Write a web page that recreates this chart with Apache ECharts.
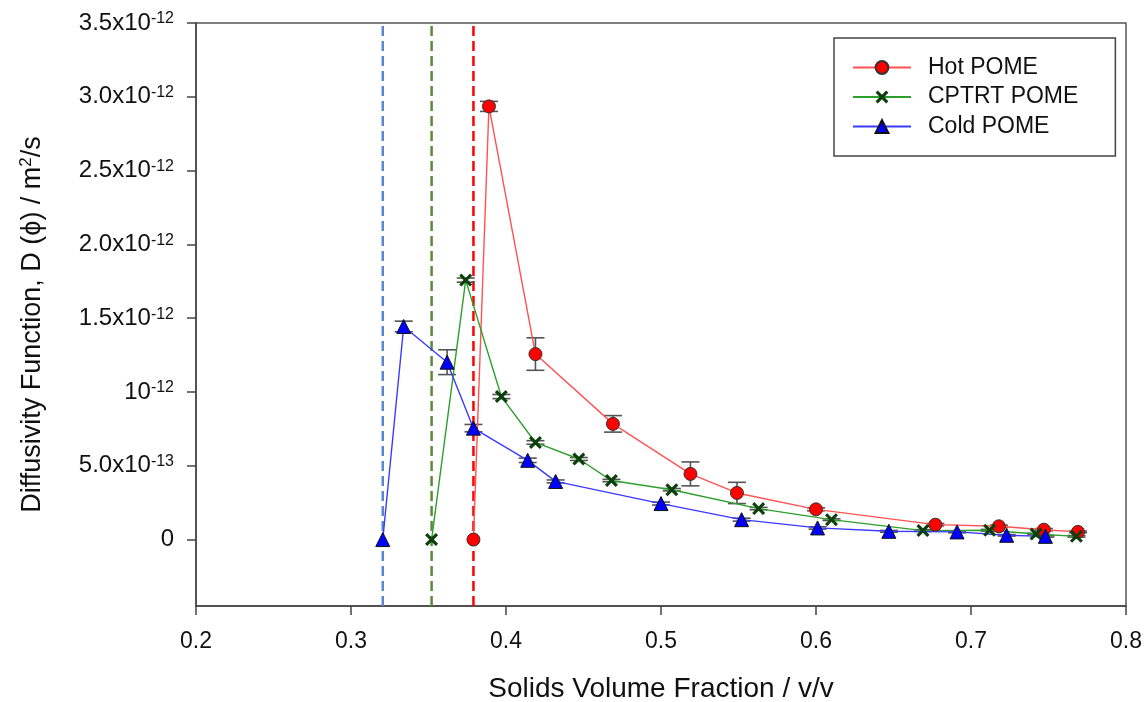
<!DOCTYPE html>
<html>
<head>
<meta charset="utf-8">
<script src="https://cdn.jsdelivr.net/npm/echarts@6/dist/echarts.min.js"></script>
<style>
html,body{margin:0;padding:0;background:#fff;}
#chart{width:1147px;height:702px;}
</style>
</head>
<body>
<div id="chart"></div>
<script>
// Values of D(phi) are in units of 1e-12 m^2/s
const hotX   = [0.379, 0.389, 0.419, 0.469, 0.519, 0.549, 0.600, 0.677, 0.718, 0.747, 0.769];
const hotY   = [0.000, 2.935, 1.257, 0.784, 0.445, 0.316, 0.205, 0.101, 0.090, 0.067, 0.052];
const hotErr = [0.000, 0.034, 0.110, 0.056, 0.081, 0.072, 0.010, 0.008, 0.008, 0.008, 0.006];

const cptX   = [0.352, 0.374, 0.397, 0.419, 0.447, 0.468, 0.507, 0.563, 0.610, 0.669, 0.712, 0.742, 0.768];
const cptY   = [0.000, 1.758, 0.969, 0.658, 0.546, 0.400, 0.338, 0.210, 0.135, 0.061, 0.063, 0.038, 0.022];
const cptErr = [0.000, 0.014, 0.014, 0.012, 0.010, 0.008, 0.008, 0.008, 0.006, 0.006, 0.006, 0.005, 0.005];

const coldX   = [0.3205, 0.334, 0.362, 0.379, 0.414, 0.432, 0.500, 0.552, 0.601, 0.647, 0.691, 0.723, 0.748];
const coldY   = [0.000, 1.444, 1.202, 0.755, 0.537, 0.394, 0.244, 0.135, 0.079, 0.056, 0.052, 0.029, 0.022];
const coldErr = [0.000, 0.036, 0.084, 0.025, 0.015, 0.010, 0.010, 0.010, 0.008, 0.006, 0.006, 0.005, 0.005];

const refLines  = [0.3205, 0.352, 0.379];
const refColors = ['#5b86d0', '#5a8a3a', '#ff0000'];

const seriesNames = ['Hot POME', 'CPTRT POME', 'Cold POME'];

const xTickValues = [0.2, 0.3, 0.4, 0.5, 0.6, 0.7, 0.8];
const yTickValues = [0, 0.5, 1.0, 1.5, 2.0, 2.5, 3.0, 3.5];
const yTickLabels = ['0', '5.0x10{s|-13}', '10{s|-12}', '1.5x10{s|-12}', '2.0x10{s|-12}',
                     '2.5x10{s|-12}', '3.0x10{s|-12}', '3.5x10{s|-12}'];

const Y_MIN = -0.45, Y_MAX = 3.5;
const FONT = '"Liberation Sans", Arial, sans-serif';

function pts(xs, ys) { return xs.map((x, i) => [x, ys[i]]); }
function errPts(xs, ys, es) {
  const out = [];
  xs.forEach((x, i) => { if (es[i] > 0) out.push([x, ys[i], es[i]]); });
  return out;
}

const xPath = 'path://M1.7,0 L5,3.3 L8.3,0 L10,1.7 L6.7,5 L10,8.3 L8.3,10 L5,6.7 L1.7,10 L0,8.3 L3.3,5 L0,1.7 Z';

function errorSeries(data) {
  return {
    type: 'custom',
    silent: true,
    z: 1,
    renderItem: function (params, api) {
      const x = api.value(0), y = api.value(1), e = api.value(2);
      const t = api.coord([x, y + e]);
      const b = api.coord([x, y - e]);
      const w = 9;
      const st = { stroke: '#555555', lineWidth: 1.6 };
      return {
        type: 'group',
        children: [
          { type: 'line', shape: { x1: t[0], y1: t[1], x2: b[0], y2: b[1] }, style: st },
          { type: 'line', shape: { x1: t[0] - w, y1: t[1], x2: t[0] + w, y2: t[1] }, style: st },
          { type: 'line', shape: { x1: b[0] - w, y1: b[1], x2: b[0] + w, y2: b[1] }, style: st }
        ]
      };
    },
    data: data
  };
}

const series = [];
refLines.forEach((v, i) => {
  series.push({
    type: 'line', silent: true, symbol: 'none', z: 0,
    data: [[v, Y_MIN], [v, Y_MAX]],
    lineStyle: { color: refColors[i], width: 2.5, type: [10, 5] }
  });
});
series.push(errorSeries(errPts(hotX, hotY, hotErr)));
series.push(errorSeries(errPts(cptX, cptY, cptErr)));
series.push(errorSeries(errPts(coldX, coldY, coldErr)));

series.push({
  name: seriesNames[0], type: 'line', z: 3,
  data: pts(hotX, hotY),
  symbol: 'circle', symbolSize: 13,
  lineStyle: { color: '#ff5252', width: 1.4 },
  itemStyle: { color: '#ff0000', borderColor: '#333333', borderWidth: 1 }
});
series.push({
  name: seriesNames[1], type: 'line', z: 3,
  data: pts(cptX, cptY),
  symbol: xPath, symbolSize: 13,
  lineStyle: { color: '#2e9e2e', width: 1.4 },
  itemStyle: { color: '#0b3f0b', borderWidth: 0 }
});
series.push({
  name: seriesNames[2], type: 'line', z: 3,
  data: pts(coldX, coldY),
  symbol: 'triangle', symbolSize: 14,
  lineStyle: { color: '#3a3aff', width: 1.4 },
  itemStyle: { color: '#0000ff', borderColor: '#111111', borderWidth: 1 }
});

const chart = echarts.init(document.getElementById('chart'), null, { renderer: 'canvas' });
chart.setOption({
  animation: false,
  backgroundColor: '#ffffff',
  textStyle: { fontFamily: FONT },
  grid: {
    left: 196, right: 21, top: 23, bottom: 96,
    show: true, borderColor: '#555555', borderWidth: 1.5,
    containLabel: false, outerBoundsMode: 'none'
  },
  legend: {
    data: seriesNames,
    orient: 'vertical',
    left: 834, top: 38,
    padding: [18, 37, 18, 18],
    itemGap: 6.5,
    itemWidth: 58, itemHeight: 16,
    borderColor: '#444444', borderWidth: 1.5,
    backgroundColor: '#ffffff',
    textStyle: { fontFamily: FONT, fontSize: 23, color: '#111111', padding: [0, 0, 0, 12] }
  },
  xAxis: {
    type: 'value', min: 0.2, max: 0.8, interval: 0.1,
    name: 'Solids Volume Fraction / v/v',
    nameLocation: 'middle', nameGap: 69,
    nameTextStyle: { fontFamily: FONT, fontSize: 28, color: '#111111' },
    axisLine: { show: true, onZero: false, lineStyle: { color: '#444444', width: 1.5 } },
    axisTick: { show: true, inside: false, length: 9, lineStyle: { color: '#444444', width: 1.5 } },
    axisLabel: {
      margin: 24, fontSize: 23, color: '#111111', fontFamily: FONT,
      formatter: function (v) {
        const i = xTickValues.findIndex(t => Math.abs(t - v) < 1e-9);
        return i >= 0 ? String(xTickValues[i]) : '';
      }
    },
    splitLine: { show: false }
  },
  yAxis: {
    type: 'value', min: Y_MIN, max: Y_MAX,
    name: '{n|Diffusivity Function, D (ϕ) / m}{s|2}{n|/s}',
    nameLocation: 'middle', nameGap: 148, nameRotate: 90,
    nameTextStyle: {
      fontFamily: FONT, fontSize: 27, color: '#111111', padding: [0, 20, 0, 0],
      rich: {
        n: { fontFamily: FONT, fontSize: 27, color: '#111111', lineHeight: 30 },
        s: { fontFamily: FONT, fontSize: 17, color: '#111111', lineHeight: 30, padding: [0, 0, 14, 0] }
      }
    },
    axisLine: { show: true, onZero: false, lineStyle: { color: '#444444', width: 1.5 } },
    axisTick: { show: true, inside: false, length: 9, customValues: yTickValues,
                lineStyle: { color: '#444444', width: 1.5 } },
    axisLabel: {
      margin: 22, fontSize: 24, color: '#111111', fontFamily: FONT,
      customValues: yTickValues,
      formatter: function (v) {
        const i = yTickValues.findIndex(t => Math.abs(t - v) < 1e-9);
        return i >= 0 ? yTickLabels[i] : '';
      },
      rich: {
        s: { fontFamily: FONT, fontSize: 16, color: '#111111', padding: [0, 0, 8, 0] }
      }
    },
    splitLine: { show: false }
  },
  series: series
});
</script>
</body>
</html>
